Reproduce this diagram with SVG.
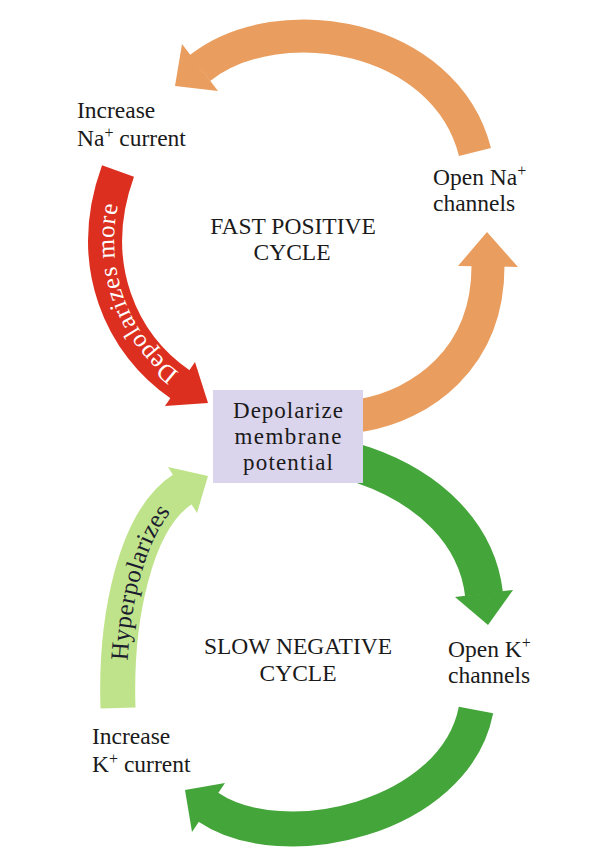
<svg xmlns="http://www.w3.org/2000/svg" width="590" height="856" viewBox="0 0 590 856">
<style>
.t{font-family:"Liberation Serif","Times New Roman",serif;font-size:23.5px;fill:#1a1a1a}
.c{text-anchor:middle}
.box{font-size:23px}
.sup{font-size:16px}
.band{fill:none;stroke-linecap:butt}
.or{stroke:#e99e5f}.orf{fill:#e99e5f}
.rd{stroke:#dc2f1f}.rdf{fill:#dc2f1f}
.gr{stroke:#44a53a}.grf{fill:#44a53a}
.lg{stroke:#bfe38a}.lgf{fill:#bfe38a}
.lab{font-family:"Liberation Serif","Times New Roman",serif;font-size:25px;dominant-baseline:central}
</style>
<defs>
<path id="redtxt" d="M 180 384 C 122 345, 84 265, 118 171"/>
<path id="lgtxt" d="M 118 708 C 115 618, 135 520, 182 490"/>
</defs>
<rect width="590" height="856" fill="#ffffff"/>
<g id="connectors">
  <g id="fast-open-na">
    <path class="band or" stroke-width="33" d="M 350 417 L 363 415 C 420 405, 488 360, 488 266"/>
    <polygon class="orf" points="458,266 487,232 518,267"/>
  </g>
  <g id="fast-increase-na">
    <path class="band or" stroke-width="33" d="M 475 152 C 445 34, 279 6, 200 68"/>
    <polygon class="orf" points="182,44 175,86 218,91"/>
  </g>
  <g id="fast-depolarizes-more">
    <path class="band rd" stroke-width="34" d="M 118 171 C 84 265, 122 345, 181 385"/>
    <polygon class="rdf" points="195,362 208,403 165,406"/>
    <text class="lab" fill="#ffffff"><textPath href="#redtxt" startOffset="8" textLength="198" lengthAdjust="spacing">Depolarizes more</textPath></text>
  </g>
  <g id="slow-open-k">
    <path class="band gr" stroke-width="38" d="M 350 461 L 363 465 C 430 488, 477 534, 484 594"/>
    <polygon class="grf" points="455,597 488,625 513,590"/>
  </g>
  <g id="slow-increase-k">
    <path class="band gr" stroke-width="35" d="M 476 710 C 455 818, 283 858, 208 807"/>
    <polygon class="grf" points="225,783 185,790 192,832"/>
  </g>
  <g id="slow-hyperpolarizes">
    <path class="band lg" stroke-width="35" d="M 118 708 C 115 618, 135 520, 183 489"/>
    <polygon class="lgf" points="168,467 208,476 197,513"/>
    <text class="lab" fill="#1c1c30"><textPath href="#lgtxt" startOffset="48" textLength="162" lengthAdjust="spacing">Hyperpolarizes</textPath></text>
  </g>
</g>
<g id="node-depolarize">
  <rect x="213" y="390" width="150" height="93" fill="#dad4ec"/>
  <text class="t c box" x="288" y="418" textLength="110" lengthAdjust="spacing">Depolarize</text>
  <text class="t c box" x="288" y="444" textLength="107" lengthAdjust="spacing">membrane</text>
  <text class="t c box" x="288" y="470" textLength="90" lengthAdjust="spacing">potential</text>
</g>
<g id="node-open-na">
  <text class="t" x="433" y="185">Open Na<tspan class="sup" dy="-9">+</tspan></text>
  <text class="t" x="433" y="211">channels</text>
</g>
<g id="node-increase-na">
  <text class="t" x="77" y="118">Increase</text>
  <text class="t" x="77" y="146">Na<tspan class="sup" dy="-8">+</tspan><tspan dy="8"> current</tspan></text>
</g>
<g id="node-open-k">
  <text class="t" x="448" y="657">Open K<tspan class="sup" dy="-9">+</tspan></text>
  <text class="t" x="448" y="683">channels</text>
</g>
<g id="node-increase-k">
  <text class="t" x="92" y="744">Increase</text>
  <text class="t" x="92" y="772">K<tspan class="sup" dy="-8">+</tspan><tspan dy="8"> current</tspan></text>
</g>
<g id="title-fast">
  <text class="t c" x="293" y="234">FAST POSITIVE</text>
  <text class="t c" x="292" y="260">CYCLE</text>
</g>
<g id="title-slow">
  <text class="t c" x="298" y="654">SLOW NEGATIVE</text>
  <text class="t c" x="298" y="681">CYCLE</text>
</g>
</svg>
